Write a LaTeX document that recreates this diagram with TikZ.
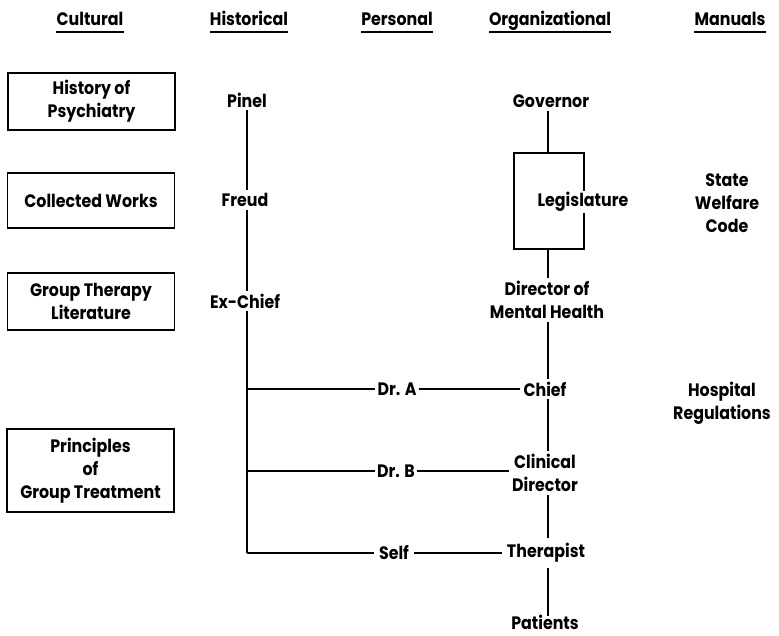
\documentclass[tikz,border=0pt]{standalone}
\usepackage{fontspec}
\setmainfont{Poppins}[FakeStretch=0.88]
\begin{document}
\begin{tikzpicture}[x=1pt,y=-1pt,
  every node/.style={font=\fontsize{18}{23}\selectfont\bfseries, align=center, inner sep=2pt},
  rule/.style={line width=1.6pt},
  colhead/.style={inner sep=0pt, anchor=base},
  srcbox/.style={draw, line width=1.6pt, minimum width=167pt},
  lbl/.style={inner sep=3pt}]
\useasboundingbox (0,0) rectangle (779,635);

% column headings
\node[colhead] (hc) at (90,25) {Cultural};
\node[colhead] (hh) at (249,25) {Historical};
\node[colhead] (hp) at (397,25) {Personal};
\node[colhead] (ho) at (550,25) {Organizational};
\node[colhead] (hm) at (730,25) {Manuals};
\foreach \h in {hc,hh,hp,ho,hm}
  \draw[rule] ([yshift=-7pt]\h.base west) -- ([yshift=-7pt]\h.base east);

% cultural sources
\node[srcbox, minimum height=57pt] (c1) at (91.5,101.5) {History of\\Psychiatry};
\node[srcbox, minimum height=55pt] (c2) at (91,200.5) {Collected Works};
\node[srcbox, minimum height=57pt] (c3) at (91,301.5) {Group Therapy\\Literature};
\node[srcbox, minimum height=83pt] (c4) at (90.5,470.5) {Principles\\of\\Group Treatment};

% historical line
\node[lbl] (pinel) at (247,100) {Pinel};
\node[lbl] (freud) at (245,200) {Freud};
\node[lbl] (exchief) at (245,301) {Ex-Chief};
\coordinate (ja) at (247,389);
\coordinate (jb) at (247,471);
\coordinate (jc) at (247,553);
\draw[rule] (pinel.south -| ja) -- (freud.north -| ja);
\draw[rule] (freud.south -| ja) -- (exchief.north -| ja);
\draw[rule] (exchief.south -| ja) -- (jc);

% personal line
\node[lbl, inner sep=2pt] (dra) at (397,389) {Dr. A};
\node[lbl, inner sep=2pt] (drb) at (396,471) {Dr. B};
\node[lbl, inner sep=5pt] (self) at (394,553) {Self};
\draw[rule] (ja) -- (ja -| dra.west);
\draw[rule] (jb) -- (jb -| drb.west);
\draw[rule] (jc) -- (jc -| self.west);

% organizational line
\node[lbl] (gov) at (551,101) {Governor};
\node[draw, line width=1.6pt, minimum width=70pt, minimum height=96pt] (legbox) at (549,201) {};
\node[fill=white, inner sep=1pt] (leg) at (583,202) {Legislature};
\node[lbl] (dmh) at (547,300) {Director of\\Mental Health};
\node[lbl] (chief) at (545,389) {Chief};
\node[lbl] (cd) at (545,473) {Clinical\\Director};
\node[lbl, inner sep=5pt] (ther) at (546,553) {Therapist};
\node[anchor=base, inner sep=1pt] (pat) at (545,629) {Patients};
\coordinate (ox) at (548,0);
\draw[rule] (gov.south -| ox) -- (legbox.north -| ox);
\draw[rule] (legbox.south -| ox) -- (dmh.north -| ox);
\draw[rule] (dmh.south -| ox) -- (chief.north -| ox);
\draw[rule] (chief.south -| ox) -- (cd.north -| ox);
\draw[rule] (cd.south -| ox) -- (ther.north -| ox);
\draw[rule] (ther.south -| ox) -- ([yshift=-3pt]pat.north -| ox);
\draw[rule] (ja -| dra.east) -- (ja -| chief.west);
\draw[rule] (jb -| drb.east) -- (jb -| cd.west);
\draw[rule] (jc -| self.east) -- (jc -| ther.west);

% manuals
\node (swc) at (727,203) {State\\Welfare\\Code};
\node (hr) at (722,403) {Hospital\\Regulations};
\end{tikzpicture}
\end{document}
